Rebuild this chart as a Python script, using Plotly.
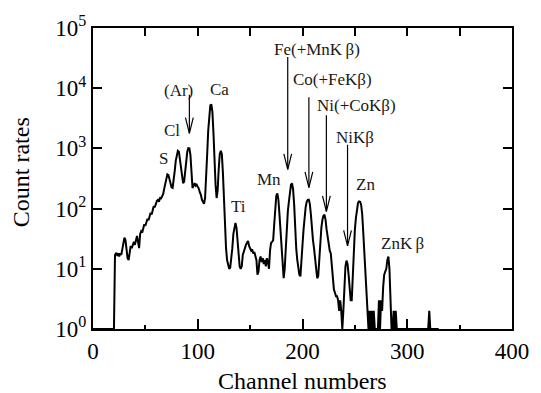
import plotly.graph_objects as go

# ---- spectrum data (channel, count rate) ----
channels = list(range(0, 331))
counts_20_290 = [
    # 20-29
    1, 17, 18, 17, 18, 16, 18, 17, 22, 28,
    # 30-39
    33, 30, 20, 15, 14, 18, 24, 22, 26, 28,
    # 40-49
    25, 30, 35, 28, 22, 38, 42, 40, 50, 55,
    # 50-59
    52, 60, 68, 64, 75, 85, 80, 95, 110, 105,
    # 60-69
    120, 135, 140, 130, 150, 148, 160, 175, 215, 270,
    # 70-79
    340, 370, 360, 300, 250, 225, 220, 280, 420, 620,
    # 80-89
    820, 910, 880, 650, 420, 300, 265, 280, 400, 650,
    # 90-99
    880, 1010, 1000, 780, 450, 220, 240, 265, 240, 250,
    # 100-109
    230, 215, 185, 170, 140, 125, 120, 150, 300, 800,
    # 110-119
    2000, 3800, 5200, 5370, 4000, 1800, 600, 250, 150, 200,
    # 120-129
    450, 800, 910, 800, 400, 140, 55, 22, 14, 12,
    # 130-139
    10, 10.5, 14, 22, 38, 52, 58, 48, 26, 14,
    # 140-149
    11, 10, 11, 17, 20, 22, 25, 27, 29, 24,
    # 150-159
    22, 20, 21, 18, 19, 16, 14, 8, 9, 14,
    # 160-169
    16, 13, 15, 12, 14, 11, 15, 13, 10, 20,
    # 170-179
    27, 28, 30, 55, 110, 165, 178, 140, 80, 42,
    # 180-189
    22, 12, 7, 10, 25, 50, 90, 130, 190, 250,
    # 190-199
    262, 210, 120, 45, 22, 14, 10, 8, 7.5, 12,
    # 200-209
    25, 45, 75, 105, 130, 140, 141, 120, 80, 45,
    # 210-219
    30, 22, 14, 9, 7, 7.5, 15, 30, 48, 65,
    # 220-229
    76, 79, 65, 45, 33, 26, 20, 18, 10, 6,
    # 230-239
    4.5, 4, 3.5, 3.5, 3, 2, 3, 2, 1, 2,
    # 240-249
    6, 11, 13.7, 12, 8, 5, 3, 3, 8, 20,
    # 250-259
    45, 70, 100, 125, 132, 130, 115, 80, 40, 20,
    # 260-269
    8, 5, 2, 1, 2, 1, 2, 1, 2, 1,
    # 270-279
    1, 1, 1, 3, 1, 3, 2, 5, 8, 9,
    # 280-289
    10, 14, 16, 10, 4, 1, 1, 2, 1, 2,
    # 290
    1,
]
counts_290_330 = [1] * 30 + [2] + [1] * 9   # channels 291-330
counts = [1] * 20 + counts_20_290 + counts_290_330

# ---- peak labels ----
label_text = ["S", "Cl", "(Ar)", "Ca", "Ti", "Mn", "Fe(+MnK\u2009\u03b2)",
              "Co(+FeK\u03b2)", "Ni(+CoK\u03b2)", "NiK\u03b2", "Zn", "ZnK\u2009\u03b2"]
label_x = [66.9, 75.5, 82.0, 120.3, 138.6, 168.1, 213.5, 229.1, 252.0, 249.7, 260.6, 295.9]
label_logy = [2.84, 3.305, 3.97, 3.985, 2.035, 2.48, 4.64, 4.14, 3.706, 3.18, 2.396, 1.42]

# ---- arrows (x, tail log10, tip log10) ----
arrow_x = [92.0, 185.9, 206.1, 222.8, 243.0]
arrow_tail = [3.89, 4.52, 3.85, 3.55, 3.06]
arrow_tip = [3.25, 2.65, 2.35, 1.95, 1.38]

x_ticks = [0, 100, 200, 300, 400]
y_tickvals = [1, 10, 100, 1000, 10000, 100000]
y_ticktext = ["10<sup>%d</sup>" % i for i in range(6)]

FONT = "Liberation Serif"

fig = go.Figure()
fig.add_trace(go.Scatter(x=channels, y=counts, mode="lines",
                         line=dict(color="black", width=2), showlegend=False,
                         hoverinfo="skip"))

head_dx = 3.7
head_dy = 0.26
for ax_, t, h in zip(arrow_x, arrow_tail, arrow_tip):
    fig.add_trace(go.Scatter(
        x=[ax_, ax_, None, ax_ - head_dx, ax_, ax_ + head_dx],
        y=[10 ** t, 10 ** h, None, 10 ** (h + head_dy), 10 ** h, 10 ** (h + head_dy)],
        mode="lines", line=dict(color="black", width=1.2),
        showlegend=False, hoverinfo="skip"))

annotations = []
for txt, lx, ly in zip(label_text, label_x, label_logy):
    annotations.append(dict(x=lx, y=ly, xref="x", yref="y", text=txt,
                            showarrow=False, xanchor="center", yanchor="middle",
                            font=dict(family=FONT, size=17, color="#1a1a1a")))
annotations.append(dict(x=0.5, y=-0.1726, xref="paper", yref="paper",
                        text="Channel numbers", showarrow=False,
                        xanchor="center", yanchor="middle",
                        font=dict(family=FONT, size=24, color="black")))
annotations.append(dict(x=-0.170, y=0.52, xref="paper", yref="paper",
                        text="Count rates", showarrow=False, textangle=-90,
                        xanchor="center", yanchor="middle",
                        font=dict(family=FONT, size=24, color="black")))

fig.update_layout(
    width=541, height=393,
    margin=dict(l=93, r=19, t=24, b=64),
    paper_bgcolor="white", plot_bgcolor="white",
    font=dict(family=FONT, color="black", size=23),
    annotations=annotations,
    xaxis=dict(range=[0, 400], tickvals=x_ticks, ticks="inside", ticklen=10,
               tickwidth=1.5, tickcolor="black", showline=True, linecolor="black",
               linewidth=2, mirror=True, showgrid=False, zeroline=False,
               tickfont=dict(family=FONT, size=23, color="black"),
               minor=dict(dtick=50, ticks="inside", ticklen=4, tickwidth=1.5,
                          tickcolor="black", showgrid=False)),
    xaxis2=dict(range=[0, 400], overlaying="x", side="top", dtick=50, tick0=0,
                ticks="inside", ticklen=8, tickwidth=1.5, tickcolor="black",
                showticklabels=False, showgrid=False, zeroline=False,
                showline=False, matches="x"),
    yaxis=dict(type="log", range=[0, 5], tickvals=y_tickvals, ticktext=y_ticktext,
               ticks="inside", ticklen=9, tickwidth=1.5, tickcolor="black",
               showline=True, linecolor="black", linewidth=2, mirror="ticks",
               showgrid=False, zeroline=False,
               tickfont=dict(family=FONT, size=23, color="black")),
)
# dummy trace to show xaxis2
fig.add_trace(go.Scatter(x=[None], y=[None], xaxis="x2", showlegend=False,
                         hoverinfo="skip"))

fig.write_html("out.html")
